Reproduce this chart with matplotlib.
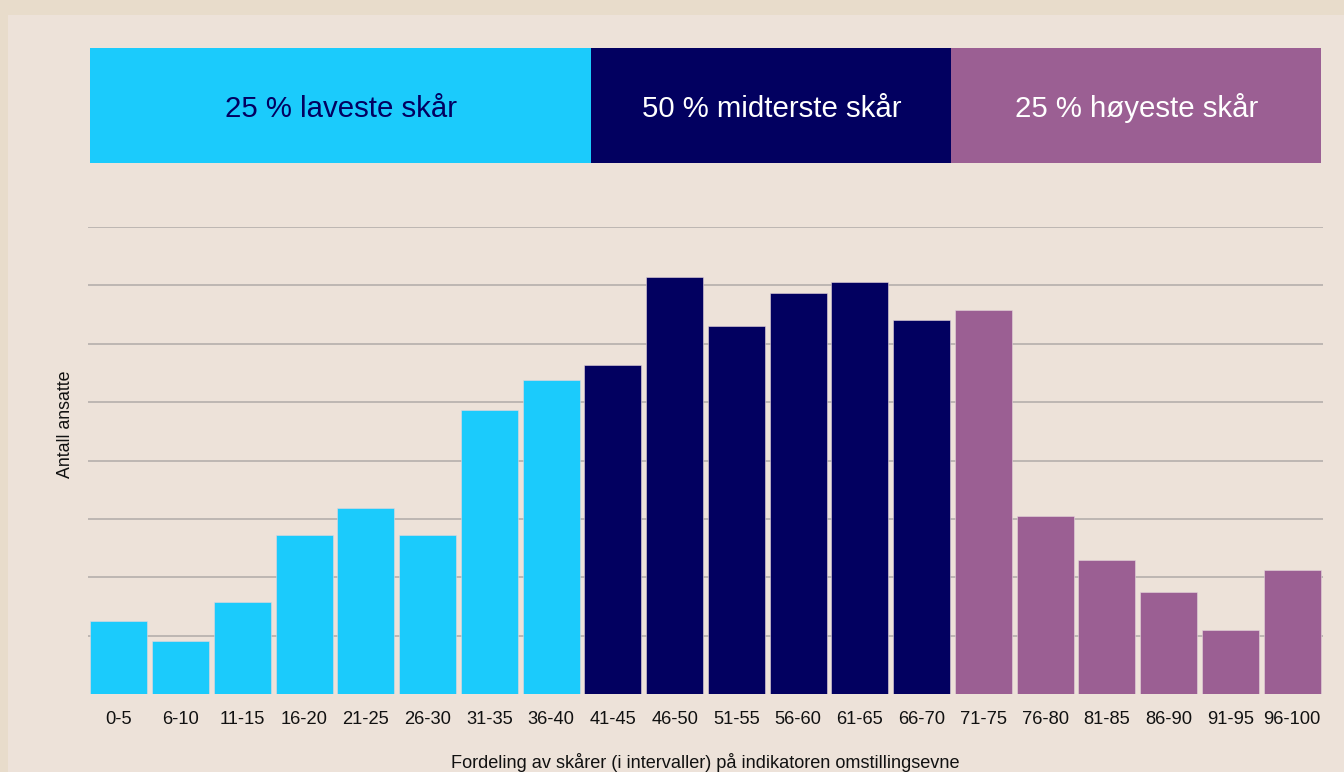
import matplotlib.pyplot as plt
from matplotlib.patches import Rectangle

plt.rcParams['font.family'] = ['Liberation Sans', 'DejaVu Sans']

intervaller = ["0-5", "6-10", "11-15", "16-20", "21-25", "26-30", "31-35", "36-40",
               "41-45", "46-50", "51-55", "56-60", "61-65", "66-70", "71-75",
               "76-80", "81-85", "86-90", "91-95", "96-100"]
antall = [1.25, 0.91, 1.58, 2.72, 3.18, 2.72, 4.86, 5.38,
          5.63, 7.14, 6.30, 6.87, 7.05, 6.40, 6.58,
          3.05, 2.29, 1.75, 1.10, 2.12]
gruppe = [0] * 8 + [1] * 6 + [2] * 6

gruppe_navn = ["25 % laveste skår", "50 % midterste skår", "25 % høyeste skår"]
gruppe_farge = ["#1BCBFC", "#020060", "#9B5F93"]
gruppe_tekst = ["#020060", "white", "white"]
# kantene på båndet øverst, i søyle-enheter
baand_kanter = [-0.47, 7.65, 13.48, 19.47]

bg = "#EDE2D9"
ramme = "#E8DCCB"
W, H = 1344, 772
fig = plt.figure(figsize=(W / 100, H / 100), dpi=100, facecolor=bg)
# mørkere kant øverst og til venstre
fig.patches.append(Rectangle((0, 1 - 15 / H), 1, 15 / H, transform=fig.transFigure,
                             facecolor=ramme, edgecolor="none"))
fig.patches.append(Rectangle((0, 0), 8 / W, 1, transform=fig.transFigure,
                             facecolor=ramme, edgecolor="none"))

ax = fig.add_axes([88 / W, 1 - 694 / H, (1323 - 88) / W, (694 - 227) / H])
ax.set_facecolor(bg)
farger = [gruppe_farge[g] for g in gruppe]
ax.bar(range(len(antall)), antall, width=0.925, color=farger,
       edgecolor="#E6D6DC", linewidth=0.4, zorder=3)
ax.set_xlim(-0.5, len(antall) - 0.5)
ax.set_ylim(0, 8)
ax.set_yticks(range(1, 9))
ax.set_yticklabels([])
ax.tick_params(axis="y", length=0)
ax.grid(axis="y", color="#B9B3AF", linewidth=1.3, zorder=0)
ax.set_xticks(range(len(intervaller)))
ax.set_xticklabels(intervaller, fontsize=13.2, color="#111111")
ax.tick_params(axis="x", length=0, pad=12)
for s in ax.spines.values():
    s.set_visible(False)
ax.set_xlabel("Fordeling av skårer (i intervaller) på indikatoren omstillingsevne",
              fontsize=13.1, labelpad=18, color="#111111")
ax.set_ylabel("Antall ansatte", fontsize=12.8, color="#111111")
ax.yaxis.set_label_coords(-0.011, 0.578)

# bånd øverst
bx = fig.add_axes([88 / W, 1 - 163 / H, (1323 - 88) / W, (163 - 48) / H])
bx.set_xlim(ax.get_xlim())
bx.set_ylim(0, 1)
bx.axis("off")
for i in range(3):
    x0, x1 = baand_kanter[i], baand_kanter[i + 1]
    bx.add_patch(Rectangle((x0, 0), x1 - x0, 1, facecolor=gruppe_farge[i], edgecolor="none"))
    bx.text((x0 + x1) / 2, 0.40, gruppe_navn[i], ha="center", va="baseline",
            fontsize=21.2, color=gruppe_tekst[i])

fig.savefig("out.png", dpi=100, facecolor=fig.get_facecolor())
